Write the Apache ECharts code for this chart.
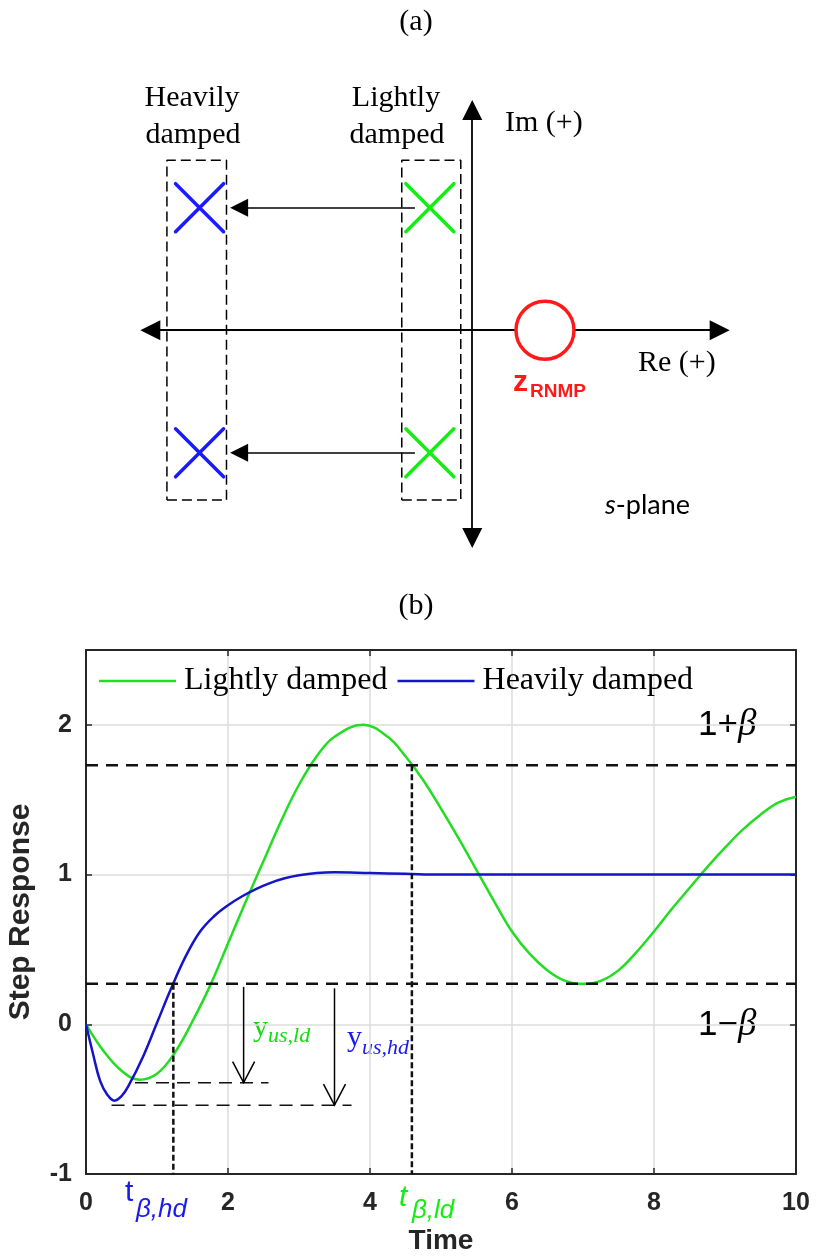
<!DOCTYPE html>
<html>
<head>
<meta charset="utf-8">
<title>s-plane and step response</title>
<script src="https://cdn.jsdelivr.net/npm/echarts@6/dist/echarts.min.js"></script>
<style>
  html, body { margin: 0; background: #fff; }
  #main { width: 817px; height: 1258px; }
</style>
</head>
<body>
<div id="main"></div>
<script>
// (a) s-plane, in s-plane units
const hdPoles = [[-4.76, 1.97], [-4.76, -1.97]]
const ldPoles = [[-0.74, 1.97], [-0.74, -1.97]]
const rnmpZero = [[1.27, 0]]
// dashed boxes: [reMin, reMax, imMin, imMax]
const hdBox = [-5.33, -4.29, -2.73, 2.73]
const ldBox = [-1.23, -0.20, -2.73, 2.73]
// arrows that move the poles from lightly to heavily damped
const poleMoves = [[[-1.0, 1.97], [-4.07, 1.97]], [[-1.0, -1.97], [-4.07, -1.97]]]
const reAxisEnds = [[-5.62, 0], [4.32, 0]]
const imAxisEnds = [[0, -3.34], [0, 3.54]]

// (b) step responses
const ldTime = [0, 0.25, 0.5, 0.75, 1, 1.25, 1.5, 1.75, 2, 2.25, 2.5, 2.75, 3, 3.25, 3.5, 3.9,
  4.25, 4.5, 4.75, 5, 5.25, 5.5, 5.75, 6, 6.25, 6.5, 6.75, 7, 7.25, 7.5, 7.75, 8,
  8.25, 8.5, 8.75, 9, 9.25, 9.5, 9.75, 10]
const ldValue = [0, -0.18, -0.31, -0.37, -0.33, -0.19, 0.02, 0.26, 0.54, 0.82, 1.09, 1.36, 1.60, 1.79, 1.92, 2.0,
  1.92, 1.79, 1.63, 1.44, 1.24, 1.03, 0.82, 0.62, 0.47, 0.36, 0.29, 0.27, 0.29, 0.36, 0.48, 0.62,
  0.77, 0.91, 1.05, 1.18, 1.30, 1.40, 1.48, 1.52]
const hdTime = [0, 0.1, 0.2, 0.3, 0.4, 0.5, 0.6, 0.8, 1.0, 1.2, 1.4, 1.6, 1.8, 2.0, 2.2, 2.4, 2.6, 2.8, 3.0, 3.25, 3.5, 4, 4.5, 5, 6, 7, 8, 9, 10]
const hdValue = [0, -0.20, -0.38, -0.47, -0.51, -0.48, -0.41, -0.22, 0.01, 0.24, 0.45, 0.615, 0.72, 0.795, 0.855, 0.905, 0.945, 0.975, 0.995, 1.01, 1.015, 1.01, 1.005, 1, 1, 1, 1, 1, 1]
const beta = 0.73
const tBetaHd = 1.23
const tBetaLd = 4.59
const usLd = -0.39
const usHd = -0.54
const usLdSpan = [0.69, 2.57]
const usHdSpan = [0.36, 3.74]
// undershoot arrows: [time, from, to]
const usArrows = [[2.22, 0.25, usLd], [3.50, 0.24, usHd]]

const green = '#22dd22'
const blue = '#1414c8'
const red = '#ff1a1a'
const axisColor = '#262626'

const myChart = echarts.init(document.getElementById('main'), null, { renderer: 'canvas' })

function boxPath(b) {
  return [[b[0], b[2]], [b[1], b[2]], [b[1], b[3]], [b[0], b[3]], [b[0], b[2]]]
}

function seg(points, lineStyle, idx) {
  return {
    type: 'line', xAxisIndex: idx, yAxisIndex: idx, data: points, symbol: 'none',
    silent: true, animation: false, lineStyle: lineStyle, z: 3
  }
}

function crossItem(color) {
  return function (params, api) {
    const p = api.coord([api.value(0), api.value(1)])
    const r = 24
    const st = { stroke: color, lineWidth: 3.5, lineCap: 'round' }
    return {
      type: 'group', children: [
        { type: 'line', shape: { x1: p[0] - r, y1: p[1] - r, x2: p[0] + r, y2: p[1] + r }, style: st },
        { type: 'line', shape: { x1: p[0] - r, y1: p[1] + r, x2: p[0] + r, y2: p[1] - r }, style: st }
      ]
    }
  }
}

function txt(text, x, y, style) {
  return {
    type: 'text', x: x, y: y, silent: true,
    style: Object.assign({
      text: text, fill: '#000', fontFamily: 'Liberation Serif', fontSize: 30,
      align: 'left', verticalAlign: 'middle', textAlign: 'left', textVerticalAlign: 'middle'
    }, style)
  }
}
function ctr(o) { return Object.assign({ align: 'center', textAlign: 'center' }, o) }

const sans = 'Liberation Sans'

myChart.setOption({
  animation: false,
  textStyle: { fontFamily: sans },
  grid: [
    { left: 140, width: 590, top: 100, height: 448, containLabel: false, outerBoundsMode: 'none' },
    { left: 86, width: 710, top: 650, height: 524, containLabel: false, outerBoundsMode: 'none' }
  ],
  legend: {
    data: [{ name: 'Lightly damped', icon: 'rect' }, { name: 'Heavily damped', icon: 'rect' }],
    left: 94, top: 660, itemWidth: 77, itemHeight: 2.5, itemGap: 10,
    selectedMode: false,
    textStyle: { fontFamily: 'Liberation Serif', fontSize: 32, color: '#000', padding: [0, 0, 0, 3] }
  },
  xAxis: [
    { gridIndex: 0, type: 'value', min: -5.8, max: 4.5, show: false },
    {
      gridIndex: 1, type: 'value', min: 0, max: 10, interval: 2,
      name: 'Time', nameLocation: 'middle', nameGap: 53,
      nameTextStyle: { fontFamily: sans, fontWeight: 'bold', fontSize: 28, color: axisColor },
      axisLine: { onZero: false, lineStyle: { color: axisColor, width: 2 } },
      axisTick: { inside: true, length: 6, lineStyle: { color: axisColor, width: 1.5 } },
      axisLabel: { fontFamily: sans, fontWeight: 'bold', fontSize: 25, color: axisColor, margin: 17 },
      splitLine: { show: true, lineStyle: { color: '#dcdcdc', width: 1.5 } }
    },
    {
      gridIndex: 1, type: 'value', min: 0, max: 10, interval: 2, position: 'top',
      axisLine: { onZero: false, lineStyle: { color: axisColor, width: 2 } },
      axisTick: { inside: true, length: 6, lineStyle: { color: axisColor, width: 1.5 } },
      axisLabel: { show: false }, splitLine: { show: false }
    }
  ],
  yAxis: [
    { gridIndex: 0, type: 'value', min: -3.5, max: 3.7, show: false },
    {
      gridIndex: 1, type: 'value', min: -1, max: 2.5, interval: 1,
      name: 'Step Response', nameLocation: 'middle', nameGap: 50,
      nameTextStyle: { fontFamily: sans, fontWeight: 'bold', fontSize: 30, color: axisColor },
      axisLine: { show: true, onZero: false, lineStyle: { color: axisColor, width: 2 } },
      axisTick: { show: true, inside: true, length: 6, lineStyle: { color: axisColor, width: 1.5 } },
      axisLabel: { fontFamily: sans, fontWeight: 'bold', fontSize: 25, color: axisColor, margin: 14, showMaxLabel: false },
      splitLine: { show: true, lineStyle: { color: '#dcdcdc', width: 1.5 } }
    },
    {
      gridIndex: 1, type: 'value', min: -1, max: 2.5, interval: 1, position: 'right',
      axisLine: { show: true, onZero: false, lineStyle: { color: axisColor, width: 2 } },
      axisTick: { show: true, inside: true, length: 6, lineStyle: { color: axisColor, width: 1.5 } },
      axisLabel: { show: false }, splitLine: { show: false }
    }
  ],
  series: [
    // ---- (a) ----
    seg(boxPath(hdBox), { color: '#000', width: 1.5, type: [10, 5] }, 0),
    seg(boxPath(ldBox), { color: '#000', width: 1.5, type: [10, 5] }, 0),
    {
      type: 'lines', coordinateSystem: 'cartesian2d', xAxisIndex: 0, yAxisIndex: 0,
      symbol: ['triangle', 'triangle'], symbolSize: [20, 20], silent: true, z: 4,
      lineStyle: { color: '#000', width: 1.8, opacity: 1 },
      data: [{ coords: reAxisEnds }, { coords: imAxisEnds }]
    },
    {
      type: 'lines', coordinateSystem: 'cartesian2d', xAxisIndex: 0, yAxisIndex: 0,
      symbol: ['none', 'triangle'], symbolSize: [18, 18], silent: true, z: 4,
      lineStyle: { color: '#000', width: 1.5, opacity: 1 },
      data: poleMoves.map(function (c) { return { coords: c } })
    },
    {
      type: 'custom', xAxisIndex: 0, yAxisIndex: 0, data: hdPoles, encode: { x: 0, y: 1 },
      renderItem: crossItem('#1a1aff'), silent: true, z: 5
    },
    {
      type: 'custom', xAxisIndex: 0, yAxisIndex: 0, data: ldPoles, encode: { x: 0, y: 1 },
      renderItem: crossItem('#11ee11'), silent: true, z: 5
    },
    {
      type: 'scatter', xAxisIndex: 0, yAxisIndex: 0, data: rnmpZero, symbol: 'circle', symbolSize: 58,
      itemStyle: { color: '#fff', borderColor: red, borderWidth: 3.5, opacity: 1 }, silent: true, z: 6
    },
    // ---- (b) ----
    seg([[0, 1 + beta], [10, 1 + beta]], { color: '#111', width: 2.5, type: [12, 8] }, 1),
    seg([[0, 1 - beta], [10, 1 - beta]], { color: '#111', width: 2.5, type: [12, 8] }, 1),
    seg([[tBetaHd, 1 - beta], [tBetaHd, -1]], { color: '#111', width: 2.5, type: [6, 3] }, 1),
    seg([[tBetaLd, 1 + beta], [tBetaLd, -1]], { color: '#111', width: 2.5, type: [6, 3] }, 1),
    seg([[usLdSpan[0], usLd], [usLdSpan[1], usLd]], { color: '#111', width: 1.5, type: [13, 8] }, 1),
    seg([[usHdSpan[0], usHd], [usHdSpan[1], usHd]], { color: '#111', width: 1.5, type: [13, 8] }, 1),
    {
      type: 'custom', xAxisIndex: 1, yAxisIndex: 1, data: usArrows, encode: { x: 0, y: [1, 2] },
      silent: true, z: 4,
      renderItem: function (params, api) {
        const top = api.coord([api.value(0), api.value(1)])
        const tip = api.coord([api.value(0), api.value(2)])
        const st = { stroke: '#000', lineWidth: 1.5, fill: 'none' }
        return {
          type: 'group', children: [
            { type: 'line', shape: { x1: top[0], y1: top[1], x2: tip[0], y2: tip[1] }, style: st },
            { type: 'polyline', shape: { points: [[tip[0] - 11, tip[1] - 21], [tip[0], tip[1]], [tip[0] + 11, tip[1] - 21]] }, style: st }
          ]
        }
      }
    },
    {
      name: 'Lightly damped', type: 'line', xAxisIndex: 1, yAxisIndex: 1, symbol: 'none', smooth: 0.4,
      color: green, lineStyle: { color: green, width: 2.5 }, z: 2,
      data: ldTime.map(function (t, i) { return [t, ldValue[i]] })
    },
    {
      name: 'Heavily damped', type: 'line', xAxisIndex: 1, yAxisIndex: 1, symbol: 'none', smooth: 0.4,
      color: blue, lineStyle: { color: blue, width: 2.5 }, z: 2,
      data: hdTime.map(function (t, i) { return [t, hdValue[i]] })
    }
  ],
  graphic: [
    txt('(a)', 416, 22, ctr({})),
    txt('(b)', 416, 606, ctr({})),
    txt('Heavily', 192, 98, ctr({})),
    txt('damped', 193, 135, ctr({})),
    txt('Lightly', 396, 98, ctr({})),
    txt('damped', 397, 135, ctr({})),
    txt('Im (+)', 505, 123, {}),
    txt('Re (+)', 638, 363, {}),
    txt('z', 513, 383, { fontFamily: sans, fontWeight: 'bold', fontSize: 30, fill: red }),
    txt('RNMP', 530, 392, { fontFamily: sans, fontWeight: 'bold', fontSize: 19, fill: red }),
    txt('{i|s}-plane', 605, 505, {
      fontFamily: 'Lato', fontSize: 27,
      rich: { i: { fontFamily: 'Lato', fontSize: 27, fontStyle: 'italic' } }
    }),
    txt('1+{b|β}', 698, 725, {
      fontFamily: sans, fontSize: 35,
      rich: { b: { fontFamily: 'Liberation Serif', fontSize: 37, fontStyle: 'italic' } }
    }),
    txt('1\u2212{b|β}', 698, 1025, {
      fontFamily: sans, fontSize: 35,
      rich: { b: { fontFamily: 'Liberation Serif', fontSize: 37, fontStyle: 'italic' } }
    }),
    txt('y', 253, 1028, { fill: '#11dd11', fontSize: 30 }),
    txt('us,ld', 268, 1036, { fill: '#11dd11', fontSize: 22, fontStyle: 'italic' }),
    txt('y', 347, 1038, { fill: '#1a1aee', fontSize: 30 }),
    txt('us,hd', 362, 1048, { fill: '#1a1aee', fontSize: 22, fontStyle: 'italic' }),
    txt('t', 125, 1193, { fill: '#1a1aee', fontFamily: sans, fontSize: 30 }),
    txt('β,hd', 136, 1210, { fill: '#1a1aee', fontFamily: sans, fontSize: 26, fontStyle: 'italic' }),
    txt('t', 399, 1198, { fill: '#11ee11', fontFamily: sans, fontSize: 30, fontStyle: 'italic' }),
    txt('β,ld', 412, 1211, { fill: '#11ee11', fontFamily: sans, fontSize: 26, fontStyle: 'italic' })
  ]
})
</script>
</body>
</html>
